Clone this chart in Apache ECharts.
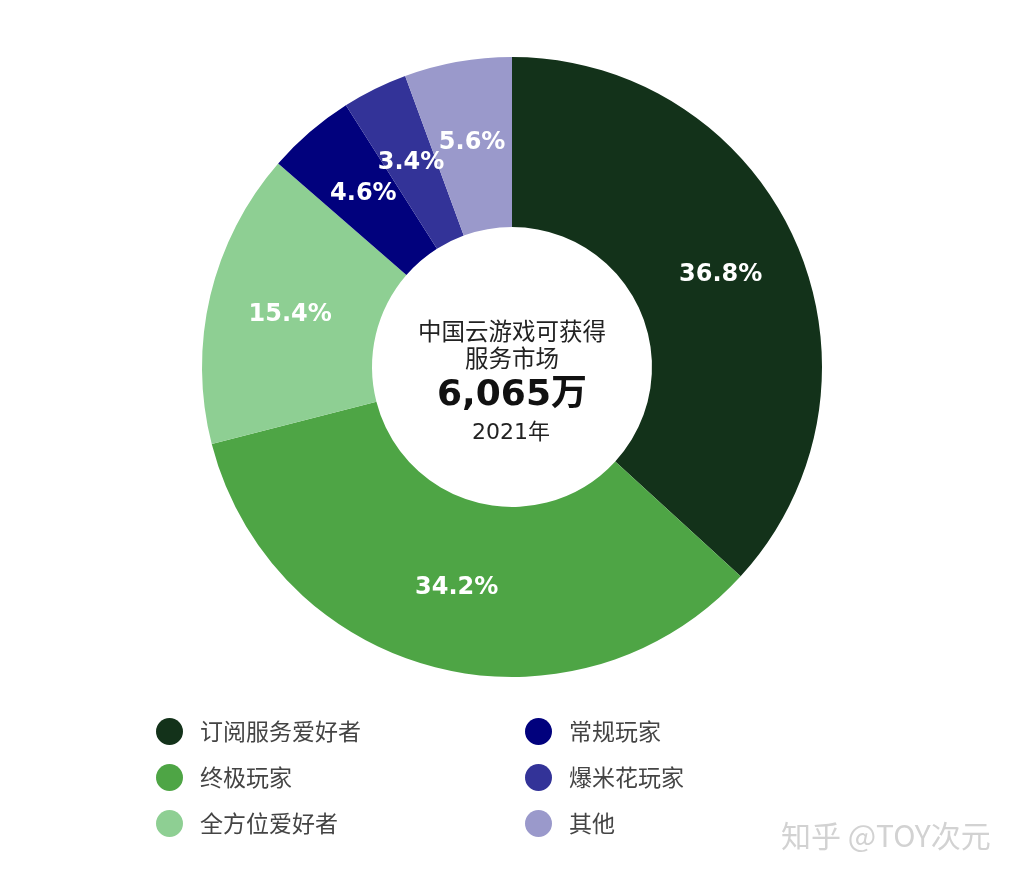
<!DOCTYPE html>
<html><head><meta charset="utf-8">
<script src="https://cdn.jsdelivr.net/npm/echarts@6/dist/echarts.min.js"></script>
<style>html,body{margin:0;padding:0;background:#fff}#c{width:1022px;height:880px}</style>
</head><body><div id="c"></div>
<script>
const categories = ['订阅服务爱好者','终极玩家','全方位爱好者','常规玩家','爆米花玩家','其他'];
const values = [36.8, 34.2, 15.4, 4.6, 3.4, 5.6];
const colors = ['#13321a','#4ea545','#8ecf93','#01017d','#333398','#9a99cb'];
const centerLines = ['中国云游戏可获得','服务市场','6,065万','2021年'];
const watermark = '知乎 @TOY次元';

const chart = echarts.init(document.getElementById('c'));
const legendBase = {
  orient:'vertical', icon:'circle', itemWidth:27, itemHeight:27, itemGap:19, padding:0,
  textStyle:{fontFamily:'Noto Sans CJK SC', fontSize:23, color:'#444', padding:[0,0,0,12]},
  selectedMode:false
};
chart.setOption({
  animation:false,
  color: colors,
  legend:[
    Object.assign({}, legendBase, {left:156, top:718, data:categories.slice(0,3)}),
    Object.assign({}, legendBase, {left:525, top:718, data:categories.slice(3)})
  ],
  graphic:[
    {type:'text', x:512, y:331, style:{text:centerLines[0], font:'23.5px "Noto Sans CJK SC"', fill:'#222', align:'center', verticalAlign:'middle'}},
    {type:'text', x:512, y:358, style:{text:centerLines[1], font:'23.5px "Noto Sans CJK SC"', fill:'#222', align:'center', verticalAlign:'middle'}},
    {type:'text', x:512, y:396, style:{text:centerLines[2], font:'bold 36px "DejaVu Sans", "Noto Sans CJK SC"', fill:'#111', align:'center', verticalAlign:'middle'}},
    {type:'text', x:511, y:433, style:{text:centerLines[3], font:'22px "DejaVu Sans", "Noto Sans CJK SC"', fill:'#222', align:'center', verticalAlign:'middle'}},
    {type:'text', x:781, y:836, style:{text:watermark, font:'30px "Noto Sans CJK SC"', fill:'#d2d2d2', verticalAlign:'middle', shadowColor:'rgba(0,0,0,0.45)', shadowBlur:1, shadowOffsetX:1, shadowOffsetY:1}}
  ],
  series:[{
    type:'pie',
    center:[512,367],
    radius:[140,310],
    startAngle:90,
    clockwise:true,
    avoidLabelOverlap:false,
    labelLayout:{hideOverlap:false},
    label:{show:true, position:'inside', formatter: p => p.value.toFixed(1)+'%',
      color:'#fff', fontFamily:'DejaVu Sans', fontWeight:'bold', fontSize:24},
    labelLine:{show:false},
    emphasis:{disabled:true},
    itemStyle:{borderWidth:0},
    data: categories.map((n,i)=>({name:n, value:values[i]}))
  }]
});
</script></body></html>
